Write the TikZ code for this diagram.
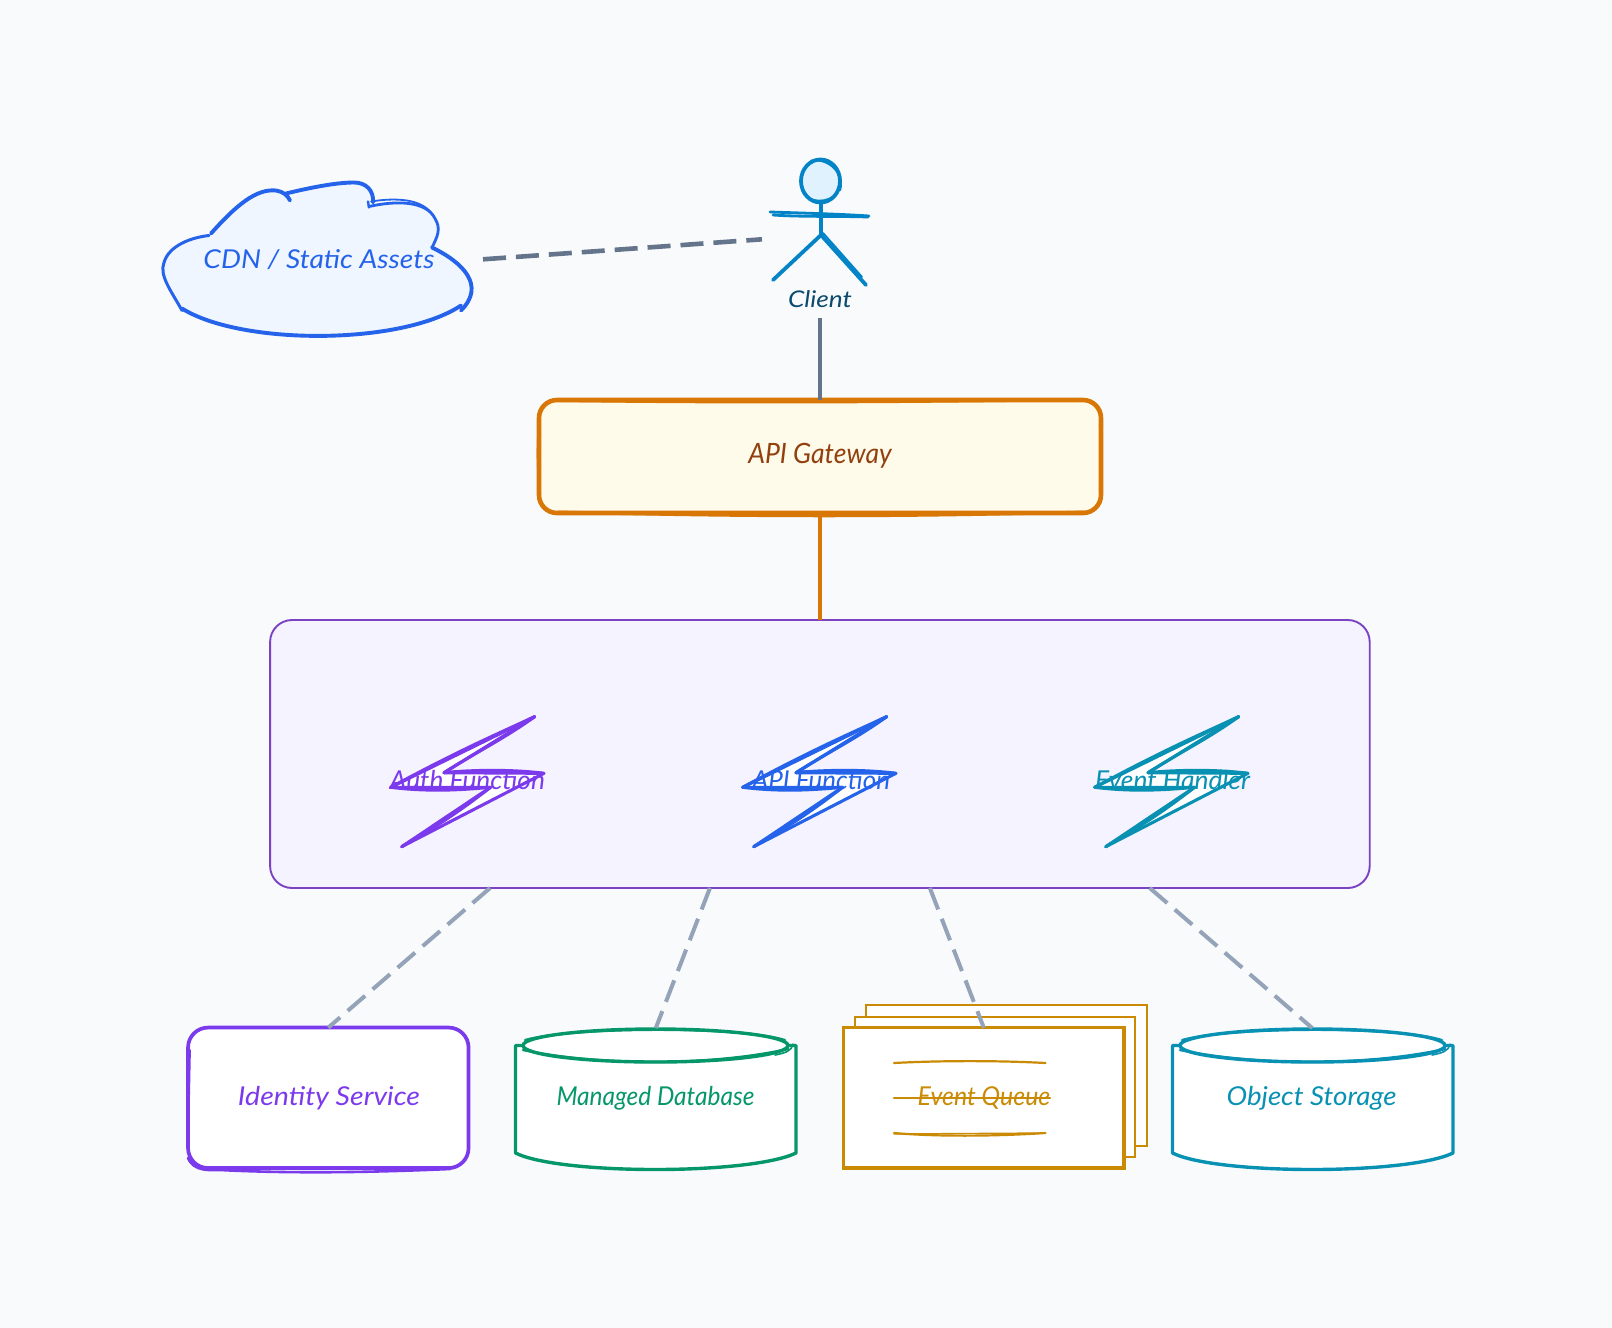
\documentclass[tikz,border=0pt]{standalone}
\usepackage{fontspec}
\usepackage{graphicx}
\usetikzlibrary{calc}
\newfontfamily\handf{Lato Italic}
\definecolor{bgc}{HTML}{F8FAFC}
\definecolor{slatea}{HTML}{64748B}
\definecolor{slateb}{HTML}{94A3B8}
\definecolor{bluec}{HTML}{2563EB}
\definecolor{bluef}{HTML}{EFF6FF}
\definecolor{skyc}{HTML}{0284C7}
\definecolor{skyf}{HTML}{E0F2FE}
\definecolor{skyt}{HTML}{0C4A6E}
\definecolor{orgc}{HTML}{D97706}
\definecolor{orgf}{HTML}{FFFBEB}
\definecolor{orgt}{HTML}{92400E}
\definecolor{poolc}{HTML}{7B42C2}
\definecolor{poolf}{HTML}{F5F3FF}
\definecolor{violc}{HTML}{7C3AED}
\definecolor{tealc}{HTML}{0891B2}
\definecolor{greenc}{HTML}{059669}
\definecolor{goldc}{HTML}{CA8A04}
\newcommand{\lab}[2]{\resizebox{#1pt}{\height}{#2}}
\newcommand{\bolt}{%
  \fill[white] (534.6,716.7) -- (390.7,787.3) -- (490.5,787.3) -- (401.7,846.7) -- (543.9,773.3) -- (444,772.7) -- cycle;
  \draw (534.6,716.7) -- (390.7,787.3) (390.7,787.3) .. controls (430,792) and (460,790) .. (490.5,787.3);
  \draw (390.7,787.3) -- (490.5,787.3) -- (401.7,846.7) -- (543.9,773.3) -- (444,772.7) -- (534.6,716.7);
  \draw (534.6,716.7) .. controls (495,735) and (460,750) .. (390.7,787.3);
  \draw (490.5,787.3) .. controls (455,815) and (430,830) .. (401.7,846.7);
  \draw (543.9,773.3) .. controls (510,769) and (470,770) .. (444,772.7);
  \draw (444,772.7) .. controls (480,750) and (505,738) .. (534.6,716.7);
}
\newcommand{\cylinder}{%
  \fill[white] (515.5,1045.5) -- (515.5,1153) .. controls (560,1175) and (750,1175) .. (796,1153) -- (796,1045.5) -- cycle;
  \draw (523,1045.5) -- (515.5,1045.5) -- (515.5,1153) .. controls (560,1175) and (750,1175) .. (796,1153) -- (796,1045.5) -- (788,1045.5);
  \draw[fill=white] (655.5,1045.5) ellipse [x radius=132.5, y radius=16.5];
  \draw[line width=2.2pt] (525,1040) .. controls (570,1027) and (740,1026) .. (785,1040);
  \draw[line width=2.4pt] (523,1050) .. controls (600,1066) and (710,1066) .. (788,1049);
  \draw[line width=1.6pt] (793,1044) .. controls (792,1051) and (785,1053) .. (775,1055);
  \draw[line width=2.4pt] (618,1029.5) -- (694,1029.5);
}
\tikzset{
  hand/.style={font=\handf\fontsize{26}{30}\selectfont, inner sep=0pt, outer sep=0pt},
  boxn/.style={rectangle, inner sep=0pt, outer sep=0pt},
  conn/.style={line width=3.8pt, line cap=butt},
  dashconn/.style={line width=4.6pt, dash pattern=on 23pt off 10pt, line cap=butt},
  sk/.style={line cap=round, line join=round},
}
\begin{document}
\begin{tikzpicture}[x=1pt,y=-1pt]
\useasboundingbox (0,0) rectangle (1612,1328);
\fill[bgc] (0,0) rectangle (1612,1328);

% named anchors for shapes drawn by hand
\node[boxn, minimum width=312pt, minimum height=156pt] (cloud) at (318,259) {};
\node[boxn, minimum width=100pt, minimum height=150pt] (client) at (821,243) {};
\coordinate (clienthip) at (762,239.3);
\coordinate (cloudedge) at (483,259.3);
\coordinate (clientfoot) at (820,318);

% cloud
\begin{scope}[sk, line width=3.9pt, draw=bluec, shift={(1,0.5)}]
\fill[bluef] (210,233) .. controls (235,205) and (255,188) .. (275,190) .. controls (282,191) and (287,195) .. (289,197) .. controls (310,187) and (335,182) .. (353,182) .. controls (365,182) and (371,190) .. (369,205) .. controls (395,200) and (425,200) .. (434,218) .. controls (440,228) and (437,235) .. (431,247) .. controls (462,262) and (485,285) .. (460,307) .. controls (400,345) and (240,345) .. (181,309) .. controls (170,290) and (158,275) .. (163,262) .. controls (168,245) and (190,237) .. (208,235) -- cycle;
\draw (210,233) .. controls (235,205) and (255,188) .. (275,190) .. controls (282,191) and (287,195) .. (289,200);
\draw (285,193) .. controls (310,187) and (335,182) .. (353,182) .. controls (365,182) and (373,190) .. (372,202);
\draw[line width=2.4pt] (367,201) -- (368,207);
\draw[line width=2.8pt] (368,206) .. controls (395,200) and (425,200) .. (434,218) .. controls (440,228) and (437,235) .. (431,247);
\draw[line width=1.8pt] (370,201) .. controls (395,197) and (422,198) .. (432,215);
\draw (431,247) .. controls (462,262) and (485,285) .. (460,310);
\draw (460,305) .. controls (400,345) and (240,345) .. (181,308);
\draw[line width=3pt] (181,310) .. controls (170,290) and (158,275) .. (163,262) .. controls (168,245) and (190,237) .. (208,235);
\end{scope}

% client figure
\begin{scope}[sk, draw=skyc, line width=3.8pt]
\draw[fill=skyf] (820.5,181) ellipse [x radius=19.5, y radius=21.5];
\draw[line width=2.4pt] (811,161) .. controls (825,157) and (845,170) .. (840,190);
\draw[line width=2pt] (802,190) .. controls (806,204) and (830,204) .. (838,192);
\draw (821,203) -- (821,235);
\draw[line width=2.8pt] (770,212) .. controls (800,213) and (840,214) .. (869,216);
\draw[line width=2.8pt] (773,215) .. controls (800,217) and (840,216) .. (868,217);
\draw (821,235) -- (773,280);
\draw (821,235) -- (866,285);
\draw[line width=2pt] (823,233) -- (862,277);
\end{scope}

% gateway
\node[boxn, draw=orgc, fill=orgf, line width=4.6pt, rounded corners=18pt, minimum width=562pt, minimum height=113pt] (gw) at (820,456.5) {};
\draw[orgc, sk, line width=3pt] (560,400.5) .. controls (750,403) and (900,402) .. (1085,399.5);
\draw[orgc, sk, line width=3pt] (558,512) .. controls (750,517) and (900,517) .. (1085,512);
\draw[orgc, sk, line width=2.4pt] (539,425) .. controls (537,450) and (538,475) .. (540,495);
\draw[orgc, sk, line width=2.4pt] (1100,425) .. controls (1102,450) and (1101,475) .. (1100,490);

% pool
\node[boxn, draw=poolc, fill=poolf, line width=1.9pt, rounded corners=22pt, minimum width=1099.6pt, minimum height=268pt] (pool) at (819.9,754) {};

% bolts
\begin{scope}[sk, line width=3.1pt, draw=violc]\bolt\end{scope}
\begin{scope}[sk, line width=3.1pt, draw=bluec, shift={(352,0)}]\bolt\end{scope}
\begin{scope}[sk, line width=3.1pt, draw=tealc, shift={(704,0)}]\bolt\end{scope}

% identity
\node[boxn, draw=violc, fill=white, line width=3.7pt, rounded corners=20pt, minimum width=280.5pt, minimum height=140.5pt] (idn) at (328.3,1097.8) {};
\draw[violc, sk, line width=2.6pt] (188,1158) .. controls (194,1172) and (210,1170) .. (220,1170) .. controls (300,1174) and (380,1172) .. (450,1169);
\draw[violc, sk, line width=1.8pt] (190,1050) -- (188,1150);

% database
\node[boxn, minimum width=280.5pt, minimum height=140pt] (db) at (655.8,1098) {};
\begin{scope}[sk, draw=greenc, line width=3.4pt]\cylinder\end{scope}

% storage
\node[boxn, minimum width=280.4pt, minimum height=140pt] (store) at (1312.2,1098) {};
\begin{scope}[sk, draw=tealc, line width=3.4pt, shift={(657,0)}]\cylinder\end{scope}

% queue
\node[boxn, draw=goldc, fill=white, line width=1.8pt, minimum width=280.7pt, minimum height=140.7pt] (q3) at (1006.3,1075.4) {};
\node[boxn, draw=goldc, fill=white, line width=2.4pt, minimum width=280pt, minimum height=140pt] (q2) at (995,1086.7) {};
\node[boxn, draw=goldc, fill=white, line width=3.2pt, minimum width=280.5pt, minimum height=140.3pt] (q1) at (983.8,1097.9) {};
\begin{scope}[sk, draw=goldc, line width=2.2pt]
\draw (894,1063) .. controls (940,1060.5) and (1000,1060.5) .. (1045.5,1063);
\draw (894,1097.7) -- (1050,1097.7);
\draw (894,1133) .. controls (940,1137) and (1000,1136) .. (1045.5,1133);
\draw[line width=1.4pt] (894,1134) -- (1045.5,1133);
\end{scope}

% connectors
\draw[slatea, dashconn] (cloudedge) -- (clienthip);
\draw[slatea, conn] (clientfoot) -- (gw.north);
\draw[orgc, conn] (gw.south) -- (pool.north);
\draw[slateb, dashconn, line width=4pt] ($(pool.south west)!0.2!(pool.south east)$) -- (idn.north);
\draw[slateb, dashconn, line width=4pt] ($(pool.south west)!0.4!(pool.south east)$) -- (db.north);
\draw[slateb, dashconn, line width=4pt] ($(pool.south west)!0.6!(pool.south east)$) -- (q1.north);
\draw[slateb, dashconn, line width=4pt] ($(pool.south west)!0.8!(pool.south east)$) -- (store.north);

% labels
\node[hand, text=bluec] (tcloud) at (319,259.5) {\lab{231}{CDN / Static Assets}};
\node[hand, text=skyt, font=\handf\fontsize{23}{27}\selectfont] (tclient) at (820,299) {\lab{64}{Client}};
\node[hand, text=orgt, font=\handf\fontsize{28}{32}\selectfont] (tgw) at (820,456) {\lab{143.5}{API Gateway}};
\node[hand, text=violc] (tauth) at (467.5,780.5) {\lab{155}{Auth Function}};
\node[hand, text=bluec] (tapi) at (821,780.5) {\lab{138}{API Function}};
\node[hand, text=tealc] (tevent) at (1172.5,780.5) {\lab{155}{Event Handler}};
\node[hand, text=violc] (tid) at (329,1098) {\lab{182}{Identity Service}};
\node[hand, text=greenc] (tdb) at (655.5,1098) {\lab{198}{Managed Database}};
\node[hand, text=goldc] (tq) at (984,1098) {\lab{132.6}{Event Queue}};
\node[hand, text=tealc] (tst) at (1311.6,1098) {\lab{170}{Object Storage}};
\end{tikzpicture}
\end{document}
